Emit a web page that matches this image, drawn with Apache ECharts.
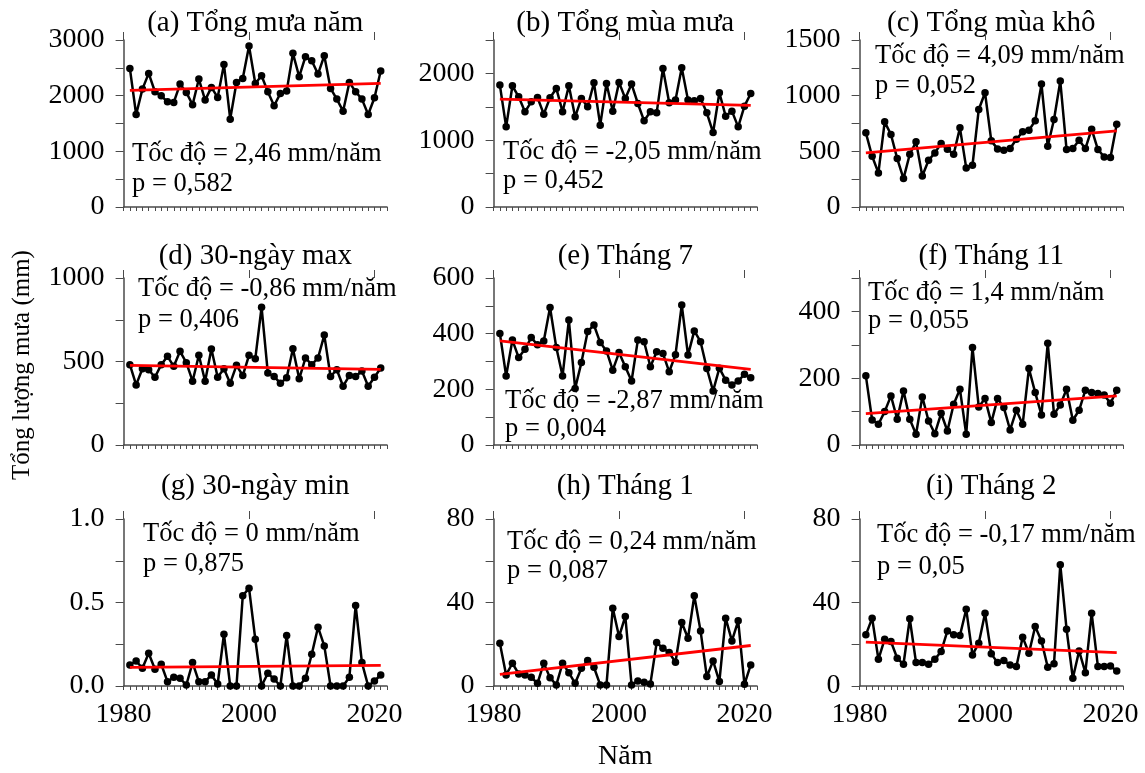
<!DOCTYPE html>
<html>
<head>
<meta charset="utf-8">
<script src="https://cdn.jsdelivr.net/npm/echarts@6/dist/echarts.min.js"></script>
<style>
  html, body { margin: 0; padding: 0; background: #fff; }
  #chart { width: 1145px; height: 773px; }
</style>
</head>
<body>
<div id="chart"></div>
<script>
const YEARS = [1981, 1982, 1983, 1984, 1985, 1986, 1987, 1988, 1989, 1990,
  1991, 1992, 1993, 1994, 1995, 1996, 1997, 1998, 1999, 2000,
  2001, 2002, 2003, 2004, 2005, 2006, 2007, 2008, 2009, 2010,
  2011, 2012, 2013, 2014, 2015, 2016, 2017, 2018, 2019, 2020, 2021]

// (a) tổng mưa năm
const tongMuaNam = [2490, 1662, 2118, 2400, 2070, 1998, 1890, 1878, 2208, 2058,
  1836, 2298, 1920, 2148, 1968, 2562, 1578, 2238, 2310, 2892,
  2220, 2358, 2070, 1818, 2040, 2082, 2760, 2340, 2700, 2628,
  2388, 2718, 2130, 1938, 1722, 2238, 2070, 1938, 1662, 1962, 2442]
// (b) tổng mùa mưa
const tongMuaMua = [1825, 1200, 1815, 1650, 1425, 1575, 1640, 1390, 1635, 1775,
  1425, 1815, 1350, 1625, 1500, 1860, 1225, 1850, 1435, 1865,
  1625, 1840, 1550, 1290, 1425, 1410, 2075, 1560, 1600, 2085,
  1600, 1590, 1625, 1410, 1115, 1710, 1360, 1435, 1200, 1510, 1700]
// (c) tổng mùa khô
const tongMuaKho = [666, 456, 306, 765, 651, 435, 255, 474, 585, 279,
  420, 486, 570, 519, 474, 711, 351, 375, 876, 1026,
  594, 522, 510, 525, 609, 675, 690, 774, 1104, 546,
  786, 1131, 516, 525, 600, 525, 699, 516, 450, 444, 744]
// (d) 30-ngày max
const max30Ngay = [481, 360, 457, 451, 406, 481, 531, 471, 561, 493,
  382, 537, 382, 575, 406, 457, 370, 477, 416, 537,
  517, 825, 431, 410, 370, 402, 577, 396, 521, 481,
  521, 658, 410, 451, 352, 416, 410, 443, 352, 406, 461]
// (e) tháng 7
const thang7 = [401, 248, 377, 314, 344, 386, 360, 374, 494, 350,
  248, 449, 203, 296, 408, 431, 368, 338, 269, 332,
  281, 230, 377, 371, 281, 335, 329, 263, 324, 503,
  323, 410, 371, 275, 194, 276, 233, 216, 230, 254, 242]
// (f) tháng 11
const thang11 = [207, 75, 62, 100, 147, 77, 162, 77, 32, 144,
  72, 34, 95, 42, 122, 167, 32, 292, 114, 139,
  67, 139, 112, 45, 104, 62, 229, 157, 90, 305,
  92, 120, 167, 74, 104, 164, 157, 154, 150, 125, 164]
// (g) 30-ngày min
const min30Ngay = [0.126, 0.15, 0.106, 0.196, 0.10, 0.13, 0.026, 0.052, 0.046, 0.006,
  0.14, 0.026, 0.026, 0.066, 0.012, 0.31, 0, 0, 0.54, 0.586,
  0.28, 0, 0.076, 0.042, 0, 0.302, 0, 0, 0.046, 0.19,
  0.352, 0.24, 0, 0, 0, 0.052, 0.482, 0.14, 0, 0.03, 0.066]
// (h) tháng 1
const thang1 = [20.5, 5.3, 10.9, 5.8, 5.3, 4.2, 1.3, 10.9, 4.0, 0.5,
  10.9, 6.4, 1.3, 8.5, 12.2, 9.0, 0.5, 0.5, 37.3, 23.7,
  33.3, 0.5, 2.4, 1.8, 1.0, 20.8, 18.1, 16.0, 11.4, 30.4,
  22.9, 43.2, 26.4, 4.5, 12.0, 2.1, 32.5, 21.6, 31.2, 0.8, 10.1]
// (i) tháng 2
const thang2 = [24.5, 32.5, 12.8, 22.4, 21.3, 13.3, 10.4, 32.2, 11.2, 11.2,
  10.4, 12.8, 16.5, 26.4, 24.5, 24.2, 36.8, 14.9, 20.5, 34.9,
  15.4, 11.2, 12.2, 10.1, 9.3, 23.4, 15.7, 28.5, 21.6, 9.0,
  10.6, 58.1, 27.2, 3.7, 16.8, 6.4, 34.9, 9.3, 9.3, 9.6, 7.2]

const SERIES_VALUES = [tongMuaNam, tongMuaMua, tongMuaKho, max30Ngay, thang7, thang11, min30Ngay, thang1, thang2]

// đường xu thế: giá trị năm 1981 và 2021
const TREND_START = [2094, 1615, 486, 477, 374, 94, 0.112, 5.6, 21.0]
const TREND_END = [2220, 1520, 684, 453, 272, 147, 0.124, 19.4, 16.0]

const PANEL_TITLES = ['(a) Tổng mưa năm', '(b) Tổng mùa mưa', '(c) Tổng mùa khô',
  '(d) 30-ngày max', '(e) Tháng 7', '(f) Tháng 11',
  '(g) 30-ngày min', '(h) Tháng 1', '(i) Tháng 2']
const RATE_TEXT = ['Tốc độ = 2,46 mm/năm', 'Tốc độ = -2,05 mm/năm', 'Tốc độ = 4,09 mm/năm',
  'Tốc độ = -0,86 mm/năm', 'Tốc độ = -2,87 mm/năm', 'Tốc độ = 1,4 mm/năm',
  'Tốc độ = 0 mm/năm', 'Tốc độ = 0,24 mm/năm', 'Tốc độ = -0,17 mm/năm']
const P_TEXT = ['p = 0,582', 'p = 0,452', 'p = 0,052', 'p = 0,406', 'p = 0,004',
  'p = 0,055', 'p = 0,875', 'p = 0,087', 'p = 0,05']

const Y_MAX = [3000, 2500, 1500, 1000, 600, 500, 1.0, 80, 80]
const Y_STEP = [500, 500, 250, 250, 100, 100, 0.25, 20, 20]
const Y_DECIMALS = [0, 0, 0, 0, 0, 0, 1, 0, 0]
const X_LABELS = [1980, 2000, 2020]

const Y_TITLE = 'Tổng lượng mưa (mm)'
const X_TITLE = 'Năm'

// bố cục (px)
const COL_LEFT = [123.6, 493.6, 859.6]
const ROW_TOP = [40, 278, 519]
const PLOT_W = 263.4
const PLOT_H = 167
const TITLE_Y = [23, 256, 486]
// vị trí chữ chú thích: [x, y dòng tốc độ, y dòng p]
const NOTE_POS = [
  [132, 154, 184], [503, 152, 181], [875, 56, 86],
  [138, 289, 320], [505, 401, 429], [868, 293, 321],
  [143, 534, 564], [507, 542, 571], [877, 535, 567]
]

const FONT = 'Liberation Serif'
const AXIS_COLOR = '#4a4a4a'

const grid = [], xAxis = [], yAxis = [], series = [], graphic = []

for (let i = 0; i < 9; i++) {
  const row = Math.floor(i / 3), col = i % 3
  grid.push({ left: COL_LEFT[col], top: ROW_TOP[row], width: PLOT_W, height: PLOT_H })

  // trục năm: vạch nhỏ mỗi năm
  xAxis.push({
    type: 'value', gridIndex: i, min: 1980, max: 2022, interval: 1,
    axisLine: { lineStyle: { color: AXIS_COLOR, width: 1.5 } },
    axisTick: { length: 4, lineStyle: { color: AXIS_COLOR, width: 1 } },
    axisLabel: {
      show: row === 2, customValues: X_LABELS, formatter: v => String(v),
      fontSize: 28, fontFamily: FONT, color: '#000', margin: 15
    },
    splitLine: { show: false }
  })
  // vạch lớn 1980/2000/2020
  xAxis.push({
    type: 'value', gridIndex: i, min: 1980, max: 2022,
    axisLine: { show: false },
    axisTick: { customValues: X_LABELS, length: 8, lineStyle: { color: AXIS_COLOR, width: 1 } },
    axisLabel: { show: false },
    splitLine: { show: false }
  })

  const step = Y_STEP[i]
  yAxis.push({
    type: 'value', gridIndex: i, min: 0, max: Y_MAX[i], interval: step,
    axisLine: { show: true, lineStyle: { color: AXIS_COLOR, width: 1.5 } },
    axisTick: { show: true, length: 8, lineStyle: { color: AXIS_COLOR, width: 1 } },
    axisLabel: {
      fontSize: 28, fontFamily: FONT, color: '#000', margin: 19,
      formatter: v => {
        const r = v / (2 * step)
        return Math.abs(r - Math.round(r)) < 1e-6 ? v.toFixed(Y_DECIMALS[i]) : ''
      }
    },
    splitLine: { show: false }
  })

  const vals = SERIES_VALUES[i]
  series.push({
    type: 'line', xAxisIndex: 2 * i, yAxisIndex: i,
    data: YEARS.map((y, k) => [y, vals[k]]),
    symbol: 'circle', symbolSize: 7.5,
    lineStyle: { color: '#000', width: 2.5 },
    itemStyle: { color: '#000' },
    z: 2
  })
  series.push({
    type: 'line', xAxisIndex: 2 * i, yAxisIndex: i,
    data: [[YEARS[0], TREND_START[i]], [YEARS[YEARS.length - 1], TREND_END[i]]],
    symbol: 'none',
    lineStyle: { color: '#ff0000', width: 2.8 },
    z: 3
  })

  graphic.push({
    type: 'text', x: COL_LEFT[col] + PLOT_W / 2, y: TITLE_Y[row],
    style: { text: PANEL_TITLES[i], fontSize: 29, fontFamily: FONT, fill: '#000', align: 'center', verticalAlign: 'middle' }
  })
  const [nx, ny1, ny2] = NOTE_POS[i]
  graphic.push({
    type: 'text', x: nx, y: ny1, z: 10,
    style: { text: RATE_TEXT[i], fontSize: 26.5, fontFamily: FONT, fill: '#000', align: 'left', verticalAlign: 'middle' }
  })
  graphic.push({
    type: 'text', x: nx, y: ny2, z: 10,
    style: { text: P_TEXT[i], fontSize: 26.5, fontFamily: FONT, fill: '#000', align: 'left', verticalAlign: 'middle' }
  })
}

graphic.push({
  type: 'text', x: 22, y: 365, rotation: Math.PI / 2,
  style: { text: Y_TITLE, fontSize: 25, fontFamily: FONT, fill: '#000', align: 'center', verticalAlign: 'middle' }
})
graphic.push({
  type: 'text', x: COL_LEFT[1] + PLOT_W / 2, y: 757,
  style: { text: X_TITLE, fontSize: 28, fontFamily: FONT, fill: '#000', align: 'center', verticalAlign: 'middle' }
})

const chart = echarts.init(document.getElementById('chart'))
chart.setOption({
  animation: false,
  backgroundColor: '#fff',
  grid, xAxis, yAxis, series, graphic
})
</script>
</body>
</html>
